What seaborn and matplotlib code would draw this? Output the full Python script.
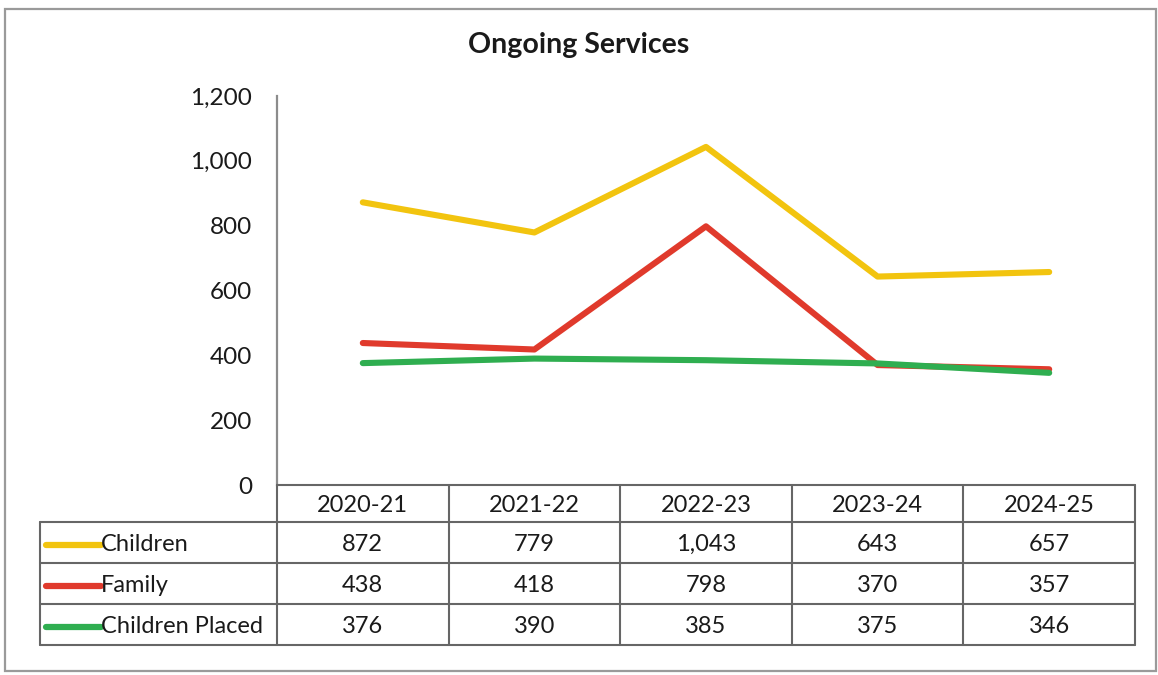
import matplotlib
matplotlib.use("Agg")
import matplotlib.pyplot as plt
import pandas as pd
import seaborn as sns

# Ongoing services by year
years = ["2020-21", "2021-22", "2022-23", "2023-24", "2024-25"]
series_names = ["Children", "Family", "Children Placed"]
children = [872, 779, 1043, 643, 657]
family = [438, 418, 798, 370, 357]
children_placed = [376, 390, 385, 375, 346]
y_ticks = [0, 200, 400, 600, 800, 1000, 1200]
colors = ["#F2C40F", "#E03A2C", "#2FAE50"]

values = [children, family, children_placed]
df = pd.DataFrame({
    "year_idx": [i for _ in series_names for i in range(len(years))],
    "value": [v for vals in values for v in vals],
    "series": [s for s in series_names for _ in years],
})

sns.set_theme(style="white")
plt.rcParams["font.family"] = ["Lato", "DejaVu Sans"]

W, H = 1158, 675
fig = plt.figure(figsize=(W / 100, H / 100), dpi=100)
fig.patch.set_facecolor("white")


def fx(px):
    return px / W


def fy(py):
    return 1 - py / H


# outer frame
frame = plt.Rectangle((fx(5), fy(671)), fx(1156) - fx(5), fy(9) - fy(671),
                      transform=fig.transFigure, fill=False,
                      edgecolor="#9a9a9a", linewidth=1.6)
fig.patches.append(frame)

# line chart area
left, right, top, bottom = 277, 1135, 96, 485
ax = fig.add_axes([fx(left), fy(bottom), fx(right) - fx(left), fy(top) - fy(bottom)])
sns.lineplot(data=df, x="year_idx", y="value", hue="series",
             hue_order=series_names, palette=colors, linewidth=4.4,
             legend=False, ax=ax, solid_capstyle="round")
ax.set_xlim(-0.5, len(years) - 0.5)
ax.set_ylim(0, 1200)
ax.set_yticks(y_ticks)
ax.set_yticklabels([f"{t:,}" for t in y_ticks], fontsize=17.5, color="#1a1a1a")
ax.set_xticks([])
ax.set_xlabel("")
ax.set_ylabel("")
ax.tick_params(axis="y", length=0, pad=18)
for side in ["top", "right", "bottom"]:
    ax.spines[side].set_visible(False)
ax.spines["left"].set_color("#8c8c8c")
ax.spines["left"].set_linewidth(1.6)
ax.patch.set_alpha(0)

fig.text(0.5, fy(45), "Ongoing Services", ha="center", va="center",
         fontsize=20.5, fontweight="bold", color="#1a1a1a")

# data table under the chart
tab_bottom = 645
tab = fig.add_axes([fx(left), fy(tab_bottom), fx(right) - fx(left), fy(bottom) - fy(tab_bottom)])
tab.set_xlim(-0.5, len(years) - 0.5)
tab.set_ylim(tab_bottom - bottom, 0)
tab.axis("off")

grid_color = "#666666"
lw = 1.5
header_h = 37
row_h = 41
col_px = (right - left) / len(years)
legend_left = (40 - left) / col_px - 0.5
sample_l = (46 - left) / col_px - 0.5
sample_r = (101 - left) / col_px - 0.5

row_edges = [header_h + row_h * k for k in range(len(series_names) + 1)]
tab.plot([-0.5, len(years) - 0.5], [0, 0], color=grid_color, lw=lw, clip_on=False)
for yb in row_edges:
    tab.plot([legend_left, len(years) - 0.5], [yb, yb], color=grid_color, lw=lw, clip_on=False)
for k in range(len(years) + 1):
    tab.plot([k - 0.5, k - 0.5], [0, row_edges[-1]], color=grid_color, lw=lw, clip_on=False)
tab.plot([legend_left, legend_left], [header_h, row_edges[-1]], color=grid_color, lw=lw, clip_on=False)

fs = 17
for i, yr in enumerate(years):
    tab.text(i, header_h / 2 + 2, yr, ha="center", va="center", fontsize=fs, color="#1a1a1a")

for r, (name, vals, c) in enumerate(zip(series_names, values, colors)):
    yc = header_h + row_h * r + row_h / 2 + 2
    tab.plot([sample_l, sample_r], [yc, yc], color=c, lw=4.5,
             solid_capstyle="round", clip_on=False)
    tab.text(sample_r, yc, name, ha="left", va="center", fontsize=fs, color="#1a1a1a")
    for i, v in enumerate(vals):
        tab.text(i, yc, f"{v:,}", ha="center", va="center", fontsize=fs, color="#1a1a1a")

fig.savefig("out.png", dpi=100, facecolor="white")
